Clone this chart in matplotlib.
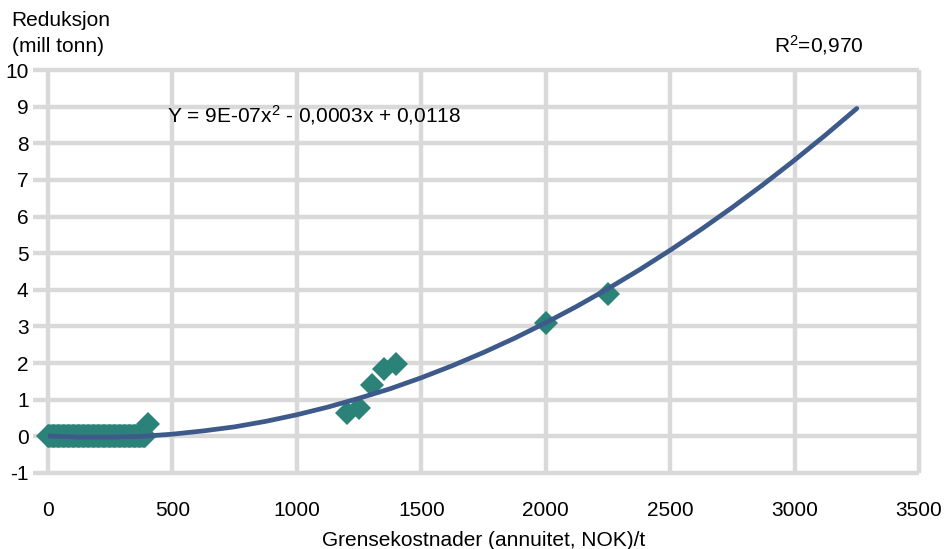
import matplotlib
matplotlib.use("Agg")
import matplotlib.pyplot as plt
import numpy as np

plt.rcParams['font.family'] = ['Liberation Sans', 'DejaVu Sans']
plt.rcParams['mathtext.fontset'] = 'custom'
plt.rcParams['mathtext.rm'] = 'Liberation Sans'
plt.rcParams['mathtext.it'] = 'Liberation Sans:italic'

# Scatter data: marginal cost (NOK/t) vs reduction (mill tonn)
zero_x = [0, 5, 10, 15, 20, 25, 30, 35, 40, 45, 50, 55, 60, 65, 70, 75, 80, 85, 90, 95,
          100, 105, 110, 115, 120, 125, 130, 135, 140, 145, 150, 155, 160, 165, 170,
          175, 180, 185, 190, 195, 200, 205, 210, 215, 220, 225, 230, 235, 240, 245,
          250, 255, 260, 265, 270, 275, 280, 285, 290, 295, 300, 305, 310, 315, 320,
          325, 330, 335, 340, 345, 350, 355, 360, 365, 370, 375, 380, 385, 390]
zero_y = [0.0] * len(zero_x)
pts_x = [400, 1200, 1250, 1300, 1350, 1400, 2000, 2250]
pts_y = [0.35, 0.65, 0.78, 1.40, 1.84, 1.97, 3.10, 3.88]

# Trend line
trend_x = [0, 125, 250, 375, 500, 625, 750, 875, 1000, 1125, 1250, 1375, 1500, 1625,
           1750, 1875, 2000, 2125, 2250, 2375, 2500, 2625, 2750, 2875, 3000, 3125, 3250]
trend_y = [0.01, -0.02, -0.02, 0.00, 0.06, 0.15, 0.26, 0.41, 0.59, 0.80, 1.04, 1.30,
           1.60, 1.93, 2.29, 2.68, 3.10, 3.55, 4.03, 4.54, 5.08, 5.65, 6.25, 6.88,
           7.54, 8.23, 8.95]

x_ticks = [0, 500, 1000, 1500, 2000, 2500, 3000, 3500]
y_ticks = [-1, 0, 1, 2, 3, 4, 5, 6, 7, 8, 9, 10]

W, H = 947, 549
fig = plt.figure(figsize=(W / 100, H / 100), dpi=100)
ax = fig.add_axes([48 / W, 1 - 473 / H, (919 - 48) / W, (473 - 70) / H])

grid_c = '#D9D9D9'
for xv in x_ticks:
    ax.axvline(xv, color=grid_c, lw=3.2, zorder=0, clip_on=False, solid_capstyle='butt')
for yv in y_ticks:
    ax.plot([-60, 3500], [yv, yv], color=grid_c, lw=3.2, zorder=0, clip_on=False,
            solid_capstyle='butt')

teal = '#2B8278'
blue = '#3D5A8A'
ax.plot(zero_x + pts_x, zero_y + pts_y, linestyle='none', marker='D', markersize=12,
        color=teal, markeredgewidth=0, zorder=3, clip_on=False)
ax.plot(trend_x, trend_y, color=blue, lw=3.4, zorder=4, solid_capstyle='round',
        solid_joinstyle='round')

ax.set_xlim(0, 3500)
ax.set_ylim(-1, 10)
for s in ax.spines.values():
    s.set_visible(False)
ax.set_xticks(x_ticks)
ax.set_yticks(y_ticks)
ax.set_xticklabels([str(v) for v in x_ticks])
ax.set_yticklabels([str(v) for v in y_ticks])
ax.tick_params(axis='both', length=0, labelsize=15, colors='black')
ax.tick_params(axis='x', pad=20)
ax.tick_params(axis='y', pad=14)

fs = 15
fig.text(11 / W, 1 - 20 / H, 'Reduksjon', fontsize=fs, ha='left', va='center')
fig.text(12 / W, 1 - 47 / H, '(mill tonn)', fontsize=fs, ha='left', va='center')
fig.text(483.5 / W, 1 - 541 / H, 'Grensekostnader (annuitet, NOK)/t', fontsize=fs,
         ha='center', va='center')
fig.text(167 / W, 1 - 115 / H, 'Y = 9E-07x$^{\\mathrm{2}}$ - 0,0003x + 0,0118',
         fontsize=fs, ha='left', va='center')
fig.text(774 / W, 1 - 45 / H, 'R$^{\\mathrm{2}}$=0,970', fontsize=fs,
         ha='left', va='center')

fig.savefig('out.png', dpi=100, facecolor='white')
